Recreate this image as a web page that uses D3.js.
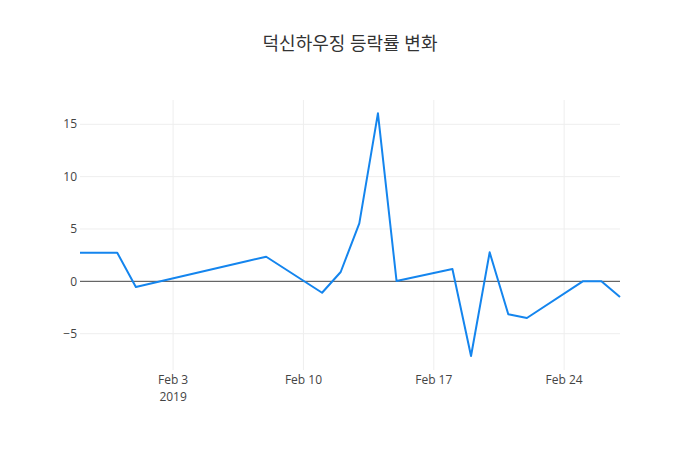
<!DOCTYPE html>
<html>
<head>
<meta charset="utf-8">
<script src="https://cdn.jsdelivr.net/npm/d3@7"></script>
<style>
  body { margin: 0; background: #fff; }
  text { font-family: "Open Sans", "Noto Sans CJK KR", sans-serif; }
</style>
</head>
<body>
<div id="chart"></div>
<script>
// trading days and daily change (%)
const dates = ['2019-01-29', '2019-01-30', '2019-01-31', '2019-02-01', '2019-02-07', '2019-02-08',
    '2019-02-11', '2019-02-12', '2019-02-13', '2019-02-14', '2019-02-15',
    '2019-02-18', '2019-02-19', '2019-02-20', '2019-02-21', '2019-02-22',
    '2019-02-25', '2019-02-26', '2019-02-27'];
const changes = [2.73, 2.73, 2.73, -0.54, 1.94, 2.35,
    -1.09, 0.89, 5.54, 16.05, 0.03,
    1.17, -7.13, 2.77, -3.15, -3.5,
    0, 0, -1.5];
const yTicks = [-5, 0, 5, 10, 15];
const xTickDates = ['2019-02-03', '2019-02-10', '2019-02-17', '2019-02-24'];
const title = '덕신하우징 등락률 변화';

const width = 700, height = 450;
const margin = { top: 100, right: 80, bottom: 80, left: 80 };
const parse = d3.timeParse('%Y-%m-%d');

const svg = d3.select('#chart').append('svg')
    .attr('width', width)
    .attr('height', height);

const x = d3.scaleTime()
    .domain([parse('2019-01-29'), parse('2019-02-27')])
    .range([margin.left, width - margin.right]);

const y = d3.scaleLinear()
    .domain([-8.47, 17.32])
    .range([height - margin.bottom, margin.top]);

// grid lines
svg.append('g')
    .selectAll('line')
    .data(xTickDates.map(parse))
    .enter().append('line')
    .attr('x1', d => x(d)).attr('x2', d => x(d))
    .attr('y1', margin.top).attr('y2', height - margin.bottom)
    .attr('stroke', '#eee');

svg.append('g')
    .selectAll('line')
    .data(yTicks.filter(d => d !== 0))
    .enter().append('line')
    .attr('x1', margin.left).attr('x2', width - margin.right)
    .attr('y1', d => y(d)).attr('y2', d => y(d))
    .attr('stroke', '#eee');

// zero line
svg.append('line')
    .attr('x1', margin.left).attr('x2', width - margin.right)
    .attr('y1', y(0)).attr('y2', y(0))
    .attr('stroke', '#444')
    .attr('stroke-width', 1);

// y axis labels
svg.append('g')
    .selectAll('text')
    .data(yTicks)
    .enter().append('text')
    .attr('x', margin.left - 3)
    .attr('y', d => y(d))
    .attr('dy', '0.35em')
    .attr('text-anchor', 'end')
    .attr('font-size', 12)
    .attr('fill', '#444')
    .text(d => d < 0 ? '\u2212' + Math.abs(d) : d);

// x axis labels
const fmt = d3.timeFormat('%b %-d');
const xLabels = svg.append('g')
    .selectAll('text')
    .data(xTickDates.map(parse))
    .enter().append('text')
    .attr('x', d => x(d))
    .attr('y', height - margin.bottom + 14)
    .attr('text-anchor', 'middle')
    .attr('font-size', 12)
    .attr('fill', '#444');

xLabels.append('tspan').text(d => fmt(d));
xLabels.filter((d, i) => i === 0)
    .append('tspan')
    .attr('x', d => x(d))
    .attr('dy', 17)
    .text(d => d.getFullYear());

// the series line
const line = d3.line()
    .x((d, i) => x(parse(dates[i])))
    .y(d => y(d));

svg.append('path')
    .datum(changes)
    .attr('fill', 'none')
    .attr('stroke', '#1485ee')
    .attr('stroke-width', 2)
    .attr('stroke-linejoin', 'round')
    .attr('d', line);

// title
svg.append('text')
    .attr('x', width / 2)
    .attr('y', 50)
    .attr('text-anchor', 'middle')
    .attr('font-size', 18)
    .attr('fill', '#333')
    .text(title);
</script>
</body>
</html>
